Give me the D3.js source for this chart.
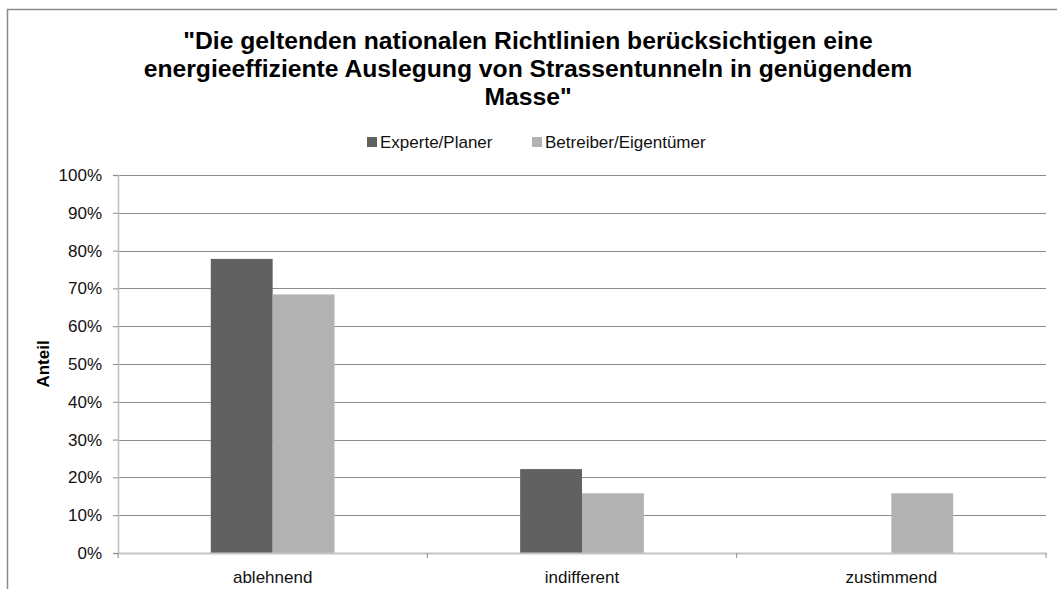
<!DOCTYPE html>
<html>
<head>
<meta charset="utf-8">
<script src="https://cdn.jsdelivr.net/npm/d3@7"></script>
<style>
  html, body { margin: 0; padding: 0; background: #fff; }
  svg { display: block; }
  text { font-family: "Liberation Sans", Arial, sans-serif; }
</style>
</head>
<body>
<svg id="chart" width="1057" height="589"></svg>
<script>
// Survey answers, share of respondents per group
const categories = ["ablehnend", "indifferent", "zustimmend"];
const seriesNames = ["Experte/Planer", "Betreiber/Eigentümer"];
const expertValues = [0.778, 0.222, 0.0];
const operatorValues = [0.684, 0.158, 0.158];
const yTicks = [0, 0.1, 0.2, 0.3, 0.4, 0.5, 0.6, 0.7, 0.8, 0.9, 1.0];
const titleLines = [
  "\"Die geltenden nationalen Richtlinien berücksichtigen eine",
  "energieeffiziente Auslegung von Strassentunneln in genügendem",
  "Masse\""
];
const yAxisTitle = "Anteil";

const colors = ["#616161", "#b2b2b2"];
const series = [expertValues, operatorValues];

const svg = d3.select("#chart");

// outer chart frame (extends past the right/bottom edge)
svg.append("rect")
  .attr("x", 7.5).attr("y", 9.5)
  .attr("width", 1200).attr("height", 800)
  .attr("fill", "none").attr("stroke", "#8a8a8a").attr("stroke-width", 1.5);

const plot = { left: 118, right: 1046, top: 175, bottom: 553 };

const x = d3.scaleBand().domain(categories).range([plot.left, plot.right]).paddingInner(0).paddingOuter(0);
const y = d3.scaleLinear().domain([0, 1]).range([plot.bottom, plot.top]);

// horizontal gridlines
svg.append("g").selectAll("line")
  .data(yTicks.filter(d => d > 0))
  .join("line")
  .attr("x1", plot.left).attr("x2", plot.right)
  .attr("y1", d => Math.round(y(d)) + 0.5).attr("y2", d => Math.round(y(d)) + 0.5)
  .attr("stroke", "#8c8c8c").attr("stroke-width", 1);

// y axis
const yAxis = d3.axisLeft(y).tickValues(yTicks).tickFormat(d3.format(".0%")).tickSize(5).tickPadding(11);
const gy = svg.append("g").attr("transform", `translate(${plot.left},0)`).call(yAxis);
gy.select(".domain").attr("stroke", "#c0c0c0").attr("stroke-width", 1.5);
gy.selectAll(".tick line").attr("stroke", "#8c8c8c");
gy.selectAll(".tick text").attr("font-size", 17).attr("fill", "#111").attr("font-family", "Liberation Sans, Arial, sans-serif");

// bars: gap width 300% of a bar, two bars per category
const inner = d3.scaleBand().domain(seriesNames.map((_, i) => i)).range([0, x.bandwidth() * 0.4]);
const groupOffset = x.bandwidth() * 0.3;
series.forEach((vals, si) => {
  svg.append("g").selectAll("rect")
    .data(vals.map((v, i) => ({ cat: categories[i], v })))
    .join("rect")
    .attr("x", d => x(d.cat) + groupOffset + inner(si))
    .attr("width", inner.bandwidth())
    .attr("y", d => y(d.v))
    .attr("height", d => y(0) - y(d.v))
    .attr("fill", colors[si]);
});

// x axis
const xAxis = d3.axisBottom(x).tickSize(0).tickPadding(18);
const gx = svg.append("g").attr("transform", `translate(0,${plot.bottom})`).call(xAxis);
gx.select(".domain").attr("stroke", "#c4c4c4").attr("stroke-width", 2);
gx.selectAll(".tick text").attr("font-size", 17).attr("fill", "#111").attr("font-family", "Liberation Sans, Arial, sans-serif");
// category separators
const sepPositions = categories.map(c => x(c)).concat([x.range()[1]]);
svg.append("g").selectAll("line").data(sepPositions).join("line")
  .attr("x1", d => d).attr("x2", d => d)
  .attr("y1", plot.bottom).attr("y2", plot.bottom + 5)
  .attr("stroke", "#8c8c8c");

// y axis title
svg.append("text")
  .attr("transform", `translate(49,${(plot.top + plot.bottom) / 2}) rotate(-90)`)
  .attr("text-anchor", "middle")
  .attr("font-size", 17).attr("font-weight", "bold").attr("fill", "#000")
  .text(yAxisTitle);

// title
svg.append("g").selectAll("text").data(titleLines).join("text")
  .attr("x", 528).attr("y", (d, i) => 49 + i * 28)
  .attr("text-anchor", "middle")
  .attr("font-size", 24.7).attr("font-weight", "bold").attr("fill", "#000")
  .text(d => d);

// legend
const legendItems = [{ name: seriesNames[0], x: 367 }, { name: seriesNames[1], x: 532 }];
const lg = svg.append("g");
legendItems.forEach((it, i) => {
  lg.append("rect").attr("x", it.x).attr("y", 137).attr("width", 10).attr("height", 10).attr("fill", colors[i]);
  lg.append("text").attr("x", it.x + 13).attr("y", 148)
    .attr("font-size", 17).attr("fill", "#111").text(it.name);
});
</script>
</body>
</html>
